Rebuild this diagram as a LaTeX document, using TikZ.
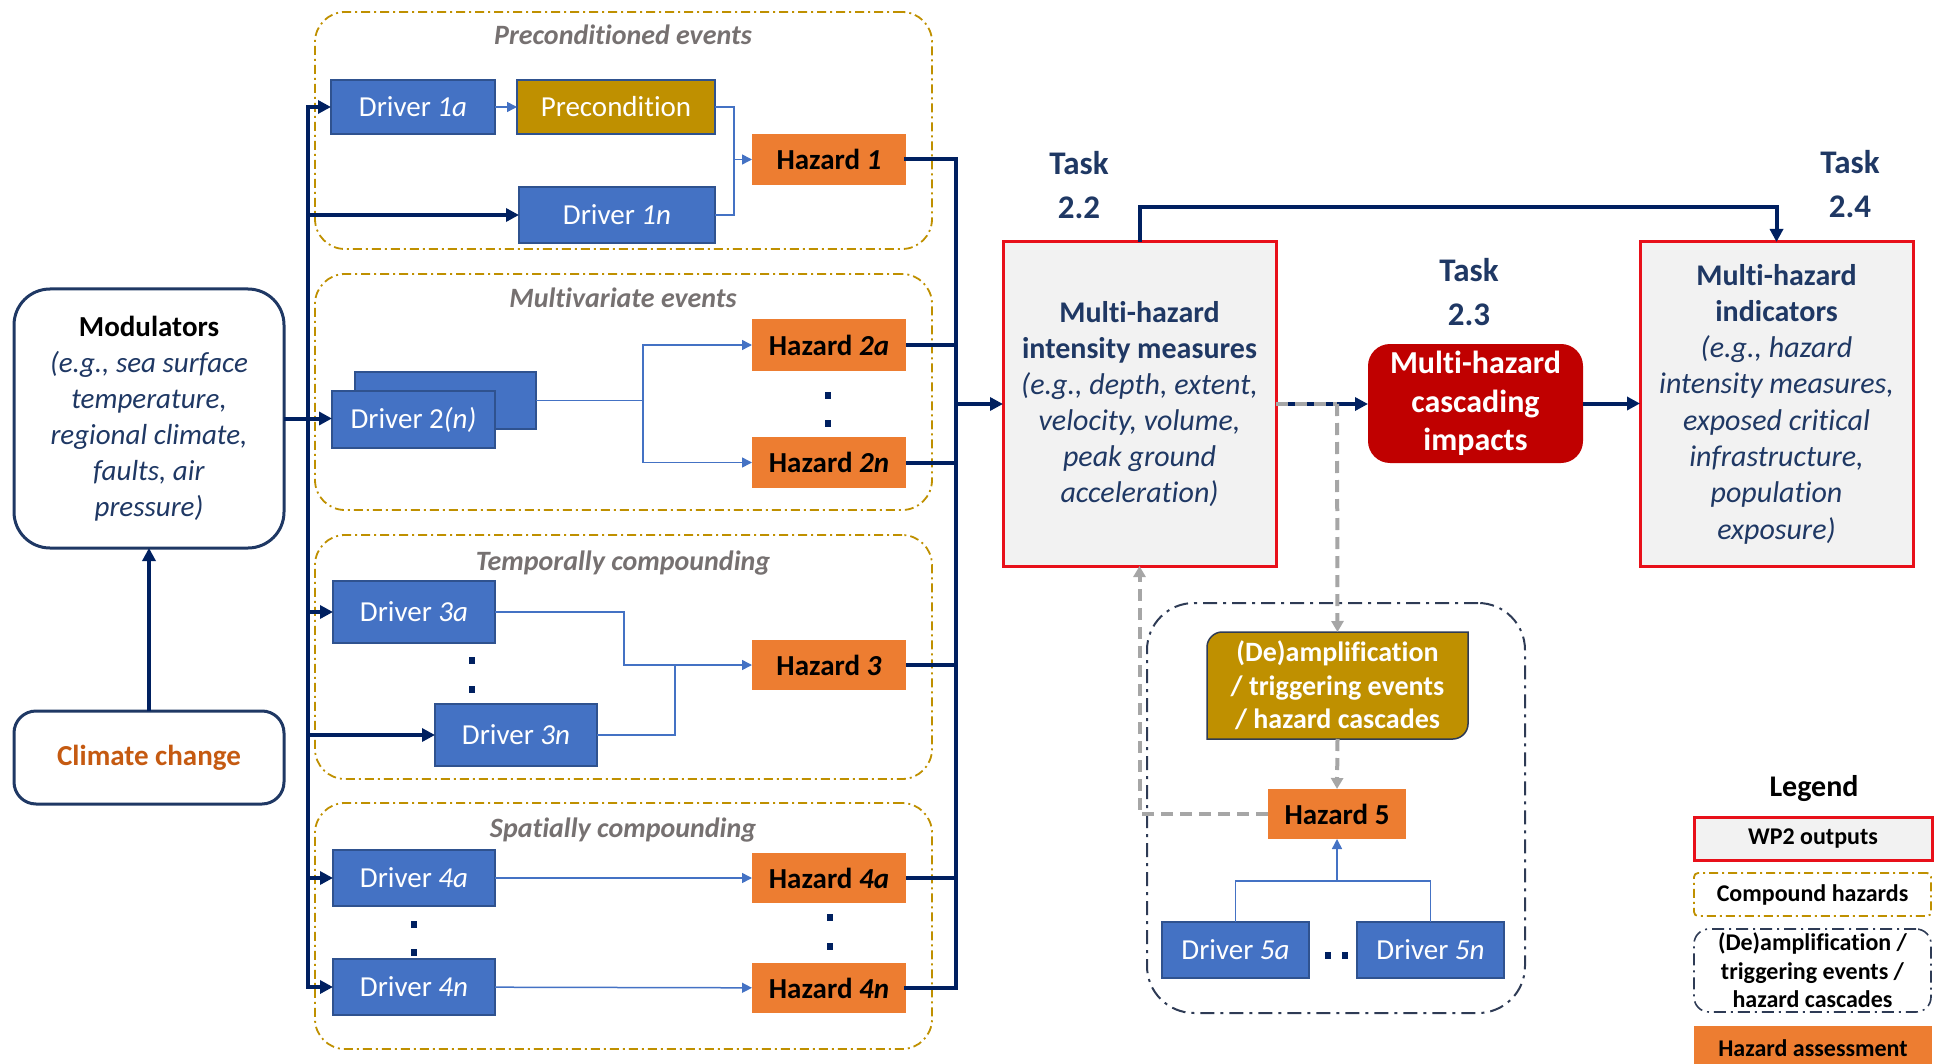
\documentclass[tikz,border=0pt]{standalone}
\usepackage{fontspec}
\setmainfont{Carlito}[Ligatures=NoCommon, Contextuals=NoAlternate]
\usetikzlibrary{arrows.meta}
\definecolor{navyline}{HTML}{002060}
\definecolor{navytext}{HTML}{1F3864}
\definecolor{modnavy}{HTML}{1F3864}
\definecolor{drvblue}{HTML}{4472C4}
\definecolor{drvborder}{HTML}{2F528F}
\definecolor{hzorange}{HTML}{ED7D31}
\definecolor{goldc}{HTML}{BF9000}
\definecolor{titlegray}{HTML}{767171}
\definecolor{wpgray}{HTML}{F2F2F2}
\definecolor{wpred}{HTML}{E8101A}
\definecolor{casred}{HTML}{C00000}
\definecolor{dgray}{HTML}{A6A6A6}
\definecolor{ccorange}{HTML}{C55A11}
\definecolor{blueline}{HTML}{4472C4}
\definecolor{ddnavy}{HTML}{2E3B55}
\newcommand{\myfs}[2]{\fontsize{#1}{#2}\selectfont}
\newcommand{\sqdot}[1]{\fill[navyline] (#1) +(-3,-3.5) rectangle +(3,3.5);}
\begin{document}
\begin{tikzpicture}[x=1pt,y=-1pt,
  every node/.style={inner sep=0pt, outer sep=0pt},
  drv/.style={draw=drvborder, line width=1.5pt, fill=drvblue, text=white, font=\myfs{29}{35}},
  haz/.style={fill=hzorange, text=black, font=\bfseries\myfs{29}{35}},
  cmp/.style={draw=goldc, line width=1.8pt, dash pattern=on 9pt off 4pt on 2pt off 4pt, rounded corners=30pt},
  ttl/.style={text=titlegray, font=\bfseries\itshape\myfs{28}{34}},
  wp/.style={draw=wpred, line width=3pt, fill=wpgray},
  navyln/.style={draw=navyline, line width=4pt},
  navyarr/.style={navyln, -{Triangle[length=13pt,width=13pt]}},
  thinln/.style={draw=blueline, line width=1.5pt},
  thinarr/.style={thinln, -{Triangle[length=10pt,width=10pt]}},
  grayln/.style={draw=dgray, line width=4pt, dash pattern=on 12pt off 7pt},
  grayarr/.style={grayln, -{Triangle[length=11pt,width=12pt]}},
  task/.style={text=navytext, font=\bfseries\myfs{33}{44}, align=center},
  legtext/.style={text=black, font=\bfseries\myfs{24}{28.5}, align=center}
]
\useasboundingbox (0,0) rectangle (1934,1064);

% compound boxes
\node[cmp, minimum width=617pt, minimum height=237pt] (cpre) at (623.5,130.5) {};
\node[cmp, minimum width=617pt, minimum height=236pt] (cmul) at (623.5,392) {};
\node[cmp, minimum width=617pt, minimum height=244pt] (ctmp) at (623.5,657) {};
\node[cmp, minimum width=617pt, minimum height=246pt] (cspa) at (623.5,926) {};
\node[ttl] (tpre) at (623,35) {Preconditioned events};
\node[ttl] (tmul) at (623,297.5) {Multivariate events};
\node[ttl] (ttmp) at (623,563) {Temporally compounding};
\node[ttl] (tspa) at (623,830.5) {Spatially compounding};

% left boxes
\node[draw=modnavy, line width=3pt, rounded corners=36pt, minimum width=270pt, minimum height=259pt,
      align=center, text=navytext, font=\myfs{29}{36}] (mod) at (149,418.5)
  {\textbf{\textcolor{black}{Modulators}}\\\textit{(e.g., sea surface}\\\textit{temperature,}\\\textit{regional climate,}\\\textit{faults, air}\\\textit{pressure)}};
\node[draw=modnavy, line width=3pt, rounded corners=22pt, minimum width=270pt, minimum height=93pt,
      text=ccorange, font=\bfseries\myfs{29}{35}] (cc) at (149,757.5) {Climate change};

% preconditioned
\node[drv, minimum width=164pt, minimum height=54pt] (d1a) at (413,107) {Driver \textit{1a}};
\node[drv, fill=goldc, minimum width=198pt, minimum height=54pt] (pre) at (616,107) {Precondition};
\node[haz, minimum width=154pt, minimum height=51pt] (h1) at (829,159.5) {Hazard \textit{1}};
\node[drv, minimum width=196pt, minimum height=56pt] (d1n) at (617,215) {Driver \textit{1n}};

% multivariate
\node[drv, minimum width=181pt, minimum height=57pt] (d2b) at (445.5,400.5) {};
\node[drv, minimum width=163pt, minimum height=57pt] (d2f) at (413.5,419.5) {Driver 2\textit{(n)}};
\node[haz, minimum width=154pt, minimum height=52pt] (h2a) at (829,345) {Hazard \textit{2a}};
\node[haz, minimum width=154pt, minimum height=51pt] (h2n) at (829,462.5) {Hazard \textit{2n}};

% temporally
\node[drv, minimum width=162pt, minimum height=62pt] (d3a) at (414,612) {Driver \textit{3a}};
\node[drv, minimum width=162pt, minimum height=62pt] (d3n) at (516,735) {Driver \textit{3n}};
\node[haz, minimum width=154pt, minimum height=50pt] (h3) at (829,665) {Hazard \textit{3}};

% spatially
\node[drv, minimum width=162pt, minimum height=56pt] (d4a) at (414,878) {Driver \textit{4a}};
\node[drv, minimum width=162pt, minimum height=56pt] (d4n) at (414,987) {Driver \textit{4n}};
\node[haz, minimum width=154pt, minimum height=50pt] (h4a) at (829,878) {Hazard \textit{4a}};
\node[haz, minimum width=154pt, minimum height=50pt] (h4n) at (829,988) {Hazard \textit{4n}};

% dots
\sqdot{828,395.5}\sqdot{828,423.6}
\sqdot{472,660}\sqdot{472,689}
\sqdot{414,924}\sqdot{414,952}
\sqdot{830,917}\sqdot{830,946}
\sqdot{1328,955}\sqdot{1345,955}

% WP2 outputs
\node[wp, minimum width=273pt, minimum height=324pt, align=center, text=navytext, font=\myfs{30}{36}] (im) at (1139.5,404)
  {\textbf{Multi-hazard}\\\textbf{intensity measures}\\\textit{(e.g., depth, extent,}\\\textit{velocity, volume,}\\\textit{peak ground}\\\textit{acceleration)}};
\node[wp, minimum width=273pt, minimum height=324pt, align=center, text=navytext, font=\myfs{30}{36.3}] (ind) at (1776.5,404)
  {\textbf{Multi-hazard}\\\textbf{indicators}\\\textit{(e.g., hazard}\\\textit{intensity measures,}\\\textit{exposed critical}\\\textit{infrastructure,}\\\textit{population}\\\textit{exposure)}};
\node[fill=casred, rounded corners=22pt, minimum width=215pt, minimum height=119pt, text=white, align=center,
      font=\bfseries\myfs{32}{38.5}] (cas) at (1475.5,403.5) {Multi-hazard\\cascading\\impacts};
\node[task] (t22) at (1079,185) {Task\\2.2};
\node[task] (t23) at (1469,292.5) {Task\\2.3};
\node[task] (t24) at (1850,184.5) {Task\\2.4};

% cascades box
\node[draw=ddnavy, line width=2pt, dash pattern=on 14pt off 6pt on 3pt off 6pt, rounded corners=47pt,
      minimum width=378pt, minimum height=410pt] (cbox) at (1336,808) {};
\fill[goldc, draw=ddnavy, line width=1.5pt] (1207,739) -- (1207,647) .. controls (1207,639) and (1214,632) .. (1222,632)
  -- (1468,632) -- (1468,724) .. controls (1468,732) and (1461,739) .. (1453,739) -- cycle;
\node[minimum width=261pt, minimum height=107pt, align=center, text=white, font=\bfseries\myfs{28}{33.5}] (deamp) at (1337.5,685.5)
  {(De)amplification\\/ triggering events\\/ hazard cascades};
\node[haz, minimum width=138pt, minimum height=50pt] (h5) at (1337,814) {Hazard 5};
\node[drv, minimum width=147pt, minimum height=56pt] (d5a) at (1235.5,950) {Driver \textit{5a}};
\node[drv, minimum width=147pt, minimum height=56pt] (d5n) at (1430.5,950) {Driver \textit{5n}};

% legend
\node[text=black, font=\bfseries\myfs{30}{36}] (legt) at (1814,789) {Legend};
\node[wp, minimum width=238pt, minimum height=43pt, legtext] (lg1) at (1813,838.5) {WP2 outputs};
\node[draw=goldc, line width=1.8pt, dash pattern=on 9pt off 4pt on 2pt off 4pt, rounded corners=4pt,
      minimum width=237pt, minimum height=43pt, legtext] (lg2) at (1812.5,894.5) {Compound hazards};
\node[draw=ddnavy, line width=1.6pt, dash pattern=on 12pt off 5pt on 2pt off 5pt, rounded corners=15pt,
      minimum width=237pt, minimum height=83pt, legtext] (lg3) at (1812.5,970.5) {(De)amplification /\\triggering events /\\hazard cascades};
\node[fill=hzorange, minimum width=238pt, minimum height=44pt, legtext] (lg4) at (1813,1048) {Hazard assessment};

% ---- connectors ----
\coordinate (bTop) at (308,107);
\coordinate (bBot) at (308,987);
\draw[navyarr, line cap=rect] (bBot) -- (bTop) -- (d1a.west);
\draw[navyarr] (bBot) -- (d4n.west);
\draw[navyarr] (bTop |- d1n) -- (d1n.west);
\draw[navyarr] (mod.east) -- (mod.east -| d2f.west);
\draw[navyarr] (bTop |- d3a) -- (d3a.west);
\draw[navyarr] (bTop |- d3n) -- (d3n.west);
\draw[navyarr] (bTop |- d4a) -- (d4a.west);
\draw[navyarr] (cc.north) -- (mod.south);

% thin connectors
\coordinate (e1) at (734,159.5);
\draw[thinarr] (d1a) -- (pre);
\draw[thinln] (pre.east) -| (e1) |- (d1n.east);
\draw[thinarr] (e1) -- (h1.west);
\coordinate (e2) at (643,400.5);
\draw[thinln] (d2b.east) -- (e2);
\draw[thinarr] (e2) |- (h2a.west);
\draw[thinarr] (e2) |- (h2n.west);
\coordinate (e3a) at (624,665);
\coordinate (e3n) at (675,665);
\draw[thinarr] (d3a.east) -| (e3a) -- (h3.west);
\draw[thinln] (d3n.east) -| (e3n);
\draw[thinarr] (d4a) -- (h4a);
\draw[thinarr] (d4n) -- (h4n);

% collector
\coordinate (cTop) at (956,159.5);
\coordinate (cBot) at (956,988);
\draw[navyln, line cap=rect] (h1.east) -- (cTop) -- (cBot) -- (h4n.east);
\draw[navyln] (h2a.east) -- (h2a.east -| cTop);
\draw[navyln] (h2n.east) -- (h2n.east -| cTop);
\draw[navyln] (h3.east) -- (h3.east -| cTop);
\draw[navyln] (h4a.east) -- (h4a.east -| cTop);
\draw[navyarr] (cTop |- im.west) -- (im.west);

% right part
\draw[navyarr] (im.north) -- ++(0,-35) -| (ind.north);
\draw[navyarr] (im.east) -- (cas.west |- im.east);
\coordinate (jn) at (1337,404);
\draw[grayln] (im.east) -- (jn);
\draw[grayarr] (jn) -- (deamp.north);
\draw[navyarr] (cas.east) -- (ind.west |- cas.east);
\draw[grayarr] (deamp.south) -- (h5.north);
\draw[grayarr] (h5.west) -| (im.south);
\coordinate (f5) at (1337,881);
\draw[thinln] (d5a.north) -- (d5a.north |- f5) -- (d5n.north |- f5) -- (d5n.north);
\draw[thinarr] (f5) -- (h5.south);
\end{tikzpicture}
\end{document}
